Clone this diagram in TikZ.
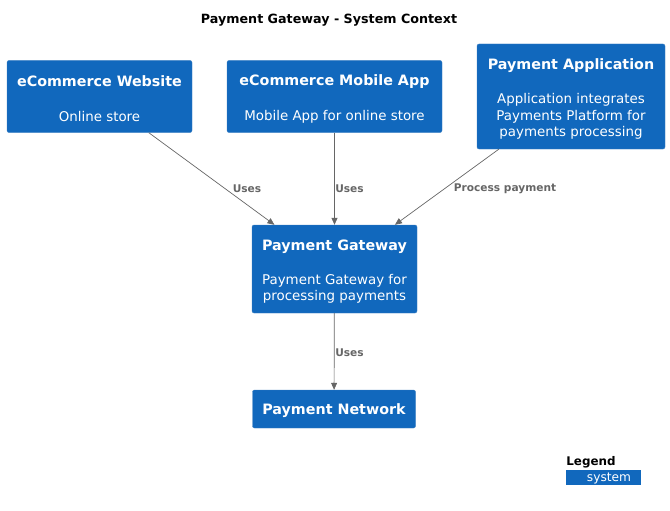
\documentclass[tikz,border=0pt]{standalone}
\usepackage{fontspec}
\setmainfont{DejaVu Sans}
\usepackage{xcolor}
\usetikzlibrary{arrows.meta}
\definecolor{sysblue}{HTML}{1168BD}
\definecolor{sysedge}{HTML}{3C7FC0}
\definecolor{relgray}{HTML}{666666}

\begin{document}
\begin{tikzpicture}[x=1pt,y=-1pt,
 sys/.style={rectangle,rounded corners=2pt,fill=sysblue,draw=sysedge,text=white,align=center,inner sep=0pt},
 systitle/.style={text=white,font=\bfseries\fontsize{14.3}{17}\selectfont},
 sysdesc/.style={text=white,align=center,font=\fontsize{13.4}{16.5}\selectfont},
 rel/.style={-{Triangle[length=7pt,width=6pt]},draw=relgray,line width=0.7pt},
 rlabel/.style={text=relgray,font=\bfseries\fontsize{10.6}{12}\selectfont}]
\useasboundingbox (0,0) rectangle (670,511);
\node[font=\bfseries\fontsize{12.7}{15}\selectfont](title) at (329,20){Payment Gateway - System Context};
% systems
\node[sys,minimum width=185,minimum height=72](web) at (99.5,96.5){};
\node[sys,minimum width=215,minimum height=72](app) at (334.5,96.5){};
\node[sys,minimum width=188,minimum height=105](pay) at (571,96.5){};
\node[sys,minimum width=165,minimum height=88](gw) at (334.5,269){};
\node[sys,minimum width=163,minimum height=38](net) at (334,409){};
\node[systitle] at (99.5,81.5){eCommerce Website};
\node[sysdesc] at (99.5,116.5){Online store};
\node[systitle] at (334.5,81.5){eCommerce Mobile App};
\node[sysdesc] at (334.5,116.5){Mobile App for online store};
\node[systitle] at (571,66){Payment Application};
\node[sysdesc] at (571,116.5){Application integrates\\Payments Platform for\\payments processing};
\node[systitle] at (334.5,247){Payment Gateway};
\node[sysdesc] at (334.5,289){Payment Gateway for\\processing payments};
\node[systitle] at (334,410.5){Payment Network};
% relations
\draw[rel](web)--(gw);
\draw[rel](app)--(gw);
\draw[rel](pay)--(gw);
\draw[rel](gw)--(net);
\node[rlabel] at (247,189){Uses};
\node[rlabel] at (349.5,189){Uses};
\node[rlabel] at (505,189){Process payment};
\node[rlabel] at (349.5,353){Uses};
% legend
\node[font=\bfseries\fontsize{11.9}{14}\selectfont](leg) at (591,462.5){Legend};
\node[fill=sysblue,minimum width=75,minimum height=15,inner sep=0pt](legsys) at (603,477){};
\node[text=white,font=\fontsize{12.2}{14}\selectfont] at (609,478.5){system};
\end{tikzpicture}
\end{document}
